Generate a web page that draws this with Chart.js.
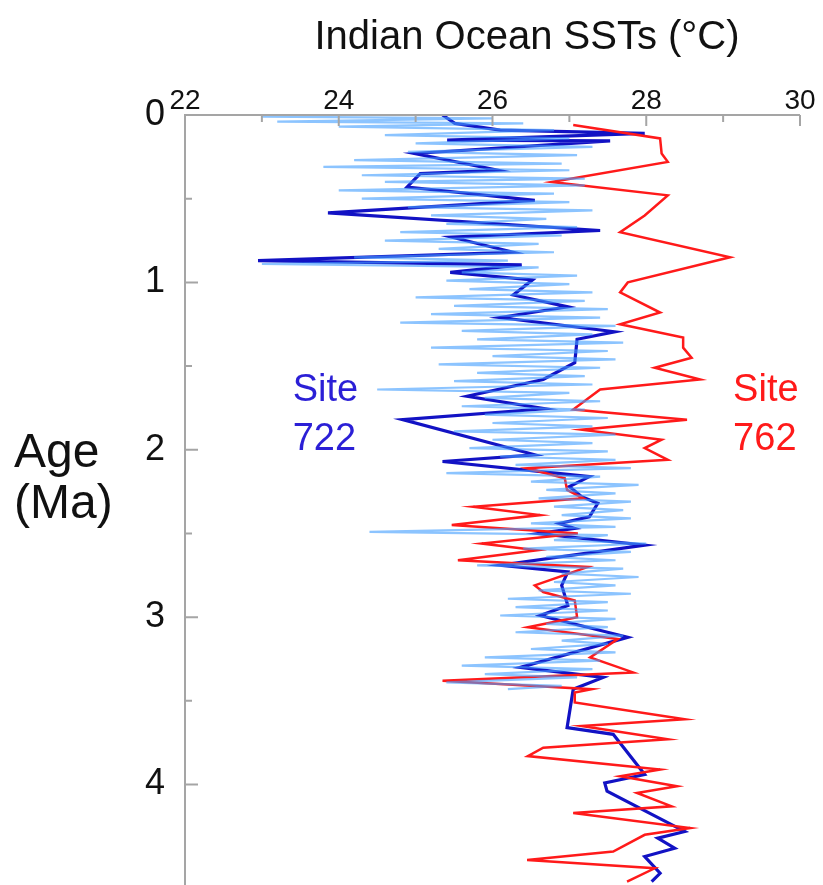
<!DOCTYPE html>
<html>
<head>
<meta charset="utf-8">
<script src="https://cdn.jsdelivr.net/npm/chart.js@4/dist/chart.umd.min.js"></script>
<style>
  html, body { margin: 0; padding: 0; background: #fff; }
  #wrap { width: 823px; height: 885px; }
</style>
</head>
<body>
<div id="wrap"><canvas id="sstChart" width="823" height="885"></canvas></div>
<script>
// Site 722 (dark blue) - age in Ma, SST in degC
const site722Age = [0, 0.05, 0.09, 0.11, 0.15, 0.155, 0.23, 0.33, 0.35, 0.43, 0.51, 0.585, 0.69, 0.73, 0.82, 0.87,
  0.895, 0.94, 0.985, 1.075, 1.146, 1.21, 1.295, 1.34, 1.48, 1.58, 1.68, 1.755, 1.82, 2.03, 2.07, 2.16, 2.22,
  2.28, 2.32, 2.40, 2.44, 2.47, 2.50, 2.57, 2.69, 2.73, 2.81, 2.93, 2.99, 3.12, 3.30, 3.36, 3.43, 3.66, 3.70,
  3.94, 3.99, 4.04, 4.28, 4.32, 4.38, 4.43, 4.53, 4.58];
const site722Sst = [25.35, 25.51, 26.1, 27.98, 25.41, 27.53, 24.99, 26.07, 25.06, 24.89, 26.55, 23.86, 27.4, 25.47, 26.27, 22.95,
  26.38, 25.45, 26.52, 26.27, 26.98, 26.1, 27.59, 27.1, 27.07, 26.66, 25.67, 26.68, 24.83, 26.55, 25.35, 27.26, 27.0,
  27.16, 27.37, 27.26, 26.87, 27.07, 26.6, 27.98, 26.1, 26.98, 26.9, 26.98, 26.62, 27.76, 26.36, 27.44, 27.05, 26.97, 27.57,
  27.98, 27.46, 27.49, 28.5, 28.15, 28.37, 27.98, 28.18, 28.07];

// Site 762 (red)
const site762Age = [0.06, 0.14, 0.23, 0.28, 0.40, 0.48, 0.60, 0.70, 0.85, 1.0, 1.06, 1.18, 1.25, 1.33, 1.39, 1.45,
  1.51, 1.58, 1.64, 1.76, 1.82, 1.88, 1.94, 1.99, 2.06, 2.11, 2.17, 2.24, 2.29, 2.34, 2.39, 2.45, 2.50, 2.56, 2.60,
  2.66, 2.70, 2.81, 2.85, 2.90, 3.00, 3.06, 3.13, 3.24, 3.33, 3.38, 3.43, 3.45, 3.51, 3.61, 3.65, 3.73, 3.78, 3.83,
  3.91, 3.95, 4.01, 4.05, 4.13, 4.17, 4.26, 4.30, 4.40, 4.45, 4.50, 4.58];
const site762Sst = [27.05, 28.18, 28.2, 28.28, 26.77, 28.28, 27.98, 27.66, 29.09, 27.76, 27.66, 28.18, 27.66, 28.48, 28.48, 28.59,
  28.11, 28.7, 27.4, 27.05, 28.53, 27.16, 28.2, 27.98, 28.28, 26.45, 26.94, 26.97, 27.18, 25.75, 26.62, 25.47, 27.11, 25.86, 26.58,
  25.55, 27.24, 26.55, 26.66, 27.07, 27.1, 26.46, 27.63, 27.27, 27.83, 25.35, 27.29, 27.07, 27.07, 28.5, 27.16, 28.28, 26.66, 26.46,
  28.18, 27.66, 28.4, 27.88, 28.33, 27.05, 28.57, 27.98, 27.57, 26.45, 28.11, 27.75];

// Site 722 high-resolution record (light blue)
const hiresAge = [0.01, 0.02, 0.04, 0.05, 0.07, 0.09, 0.12, 0.14, 0.17, 0.19, 0.22, 0.24, 0.27, 0.29, 0.31, 0.33,
  0.36, 0.38, 0.40, 0.42, 0.45, 0.47, 0.50, 0.52, 0.55, 0.57, 0.60, 0.62, 0.65, 0.67, 0.70, 0.72, 0.75, 0.77,
  0.80, 0.82, 0.85, 0.87, 0.89, 0.91, 0.94, 0.96, 0.99, 1.01, 1.04, 1.06, 1.09, 1.11, 1.14, 1.16, 1.19, 1.21,
  1.24, 1.26, 1.29, 1.31, 1.34, 1.36, 1.39, 1.41, 1.44, 1.46, 1.49, 1.51, 1.54, 1.56, 1.59, 1.61, 1.64, 1.66,
  1.69, 1.71, 1.74, 1.76, 1.79, 1.81, 1.84, 1.86, 1.89, 1.91, 1.94, 1.96, 1.99, 2.01, 2.04, 2.06, 2.09, 2.11,
  2.14, 2.16, 2.19, 2.21, 2.24, 2.26, 2.29, 2.31, 2.34, 2.36, 2.39, 2.41, 2.44, 2.46, 2.49, 2.51, 2.54, 2.56,
  2.59, 2.61, 2.64, 2.66, 2.69, 2.71, 2.74, 2.76, 2.79, 2.81, 2.84, 2.86, 2.89, 2.91, 2.94, 2.96, 2.99, 3.01,
  3.04, 3.06, 3.09, 3.11, 3.14, 3.16, 3.19, 3.21, 3.24, 3.26, 3.29, 3.31, 3.34, 3.36, 3.39, 3.41, 3.43];
const hiresSst = [23.0, 26.0, 23.2, 26.4, 24.0, 26.8, 24.6, 27.0, 25.0, 27.3, 24.9, 27.1, 24.2, 26.9, 23.8, 27.0,
  24.3, 27.2, 24.6, 27.2, 24.0, 26.8, 24.3, 27.0, 24.9, 27.3, 25.2, 26.7, 25.4, 27.1, 24.8, 26.9, 24.6, 26.6,
  25.3, 26.8, 24.2, 26.2, 23.0, 26.6, 25.6, 27.1, 25.4, 27.0, 25.7, 27.3, 25.0, 27.2, 25.5, 27.5, 25.2, 27.4,
  24.8, 27.6, 25.6, 27.3, 25.8, 27.7, 25.2, 27.5, 26.0, 27.6, 25.3, 27.4, 25.8, 27.2, 25.5, 27.3, 24.5, 27.0,
  25.9, 27.4, 25.6, 27.2, 25.9, 27.5, 26.0, 27.3, 25.5, 27.6, 26.0, 27.3, 25.7, 27.5, 26.1, 27.6, 26.3, 27.8,
  25.4, 27.4, 26.5, 27.9, 26.7, 27.6, 26.6, 27.8, 26.8, 27.7, 26.9, 27.8, 26.5, 27.6, 24.4, 27.5, 26.8, 28.0,
  26.4, 27.8, 26.7, 27.6, 25.8, 27.7, 26.9, 27.9, 26.8, 27.6, 26.6, 27.8, 26.2, 27.5, 26.3, 27.5, 26.1, 27.6,
  26.7, 27.5, 26.3, 27.7, 26.9, 27.5, 26.5, 27.6, 25.9, 27.4, 25.6, 27.3, 25.9, 27.1, 25.4, 26.9, 26.2];

const xTickLabels = [22, 24, 26, 28, 30];
const yTickLabels = [0, 1, 2, 3, 4];

const toPoints = (ages, ssts) => ages.map((a, i) => ({ x: ssts[i], y: a }));

const FONT = '"Liberation Sans", Arial, Helvetica, sans-serif';

// axis lines with inward ticks, drawn over the data
const axisFrame = {
  id: 'axisFrame',
  afterDatasetsDraw(chart) {
    const { ctx, chartArea, scales } = chart;
    ctx.save();
    ctx.strokeStyle = '#a5a5a5';
    ctx.lineWidth = 2;
    ctx.beginPath();
    ctx.moveTo(chartArea.left, chartArea.bottom);
    ctx.lineTo(chartArea.left, chartArea.top);
    ctx.lineTo(chartArea.right, chartArea.top);
    scales.x.ticks.forEach(t => {
      const px = scales.x.getPixelForValue(t.value);
      const len = xTickLabels.includes(t.value) ? 11 : 7;
      ctx.moveTo(px, chartArea.top);
      ctx.lineTo(px, chartArea.top + len);
    });
    scales.y.ticks.forEach(t => {
      if (Math.abs(t.value * 2 - Math.round(t.value * 2)) > 1e-6) return;
      const py = scales.y.getPixelForValue(t.value);
      const len = yTickLabels.includes(t.value) ? 13 : 7;
      ctx.moveTo(chartArea.left, py);
      ctx.lineTo(chartArea.left + len, py);
    });
    ctx.stroke();
    ctx.restore();
  }
};

// title, axis title and site labels
const labels = {
  id: 'labels',
  afterDraw(chart) {
    const { ctx, scales } = chart;
    ctx.save();
    ctx.textBaseline = 'alphabetic';
    ctx.fillStyle = '#111';
    ctx.font = '40px ' + FONT;
    ctx.textAlign = 'center';
    ctx.fillText('Indian Ocean SSTs (°C)', 527, 49);

    ctx.textAlign = 'left';
    ctx.font = '48px ' + FONT;
    ctx.fillText('Age', 14, 467);
    ctx.fillText('(Ma)', 14, 518);

    ctx.font = '38px ' + FONT;
    ctx.fillStyle = '#2b1fd6';
    ctx.fillText('Site', scales.x.getPixelForValue(23.4), scales.y.getPixelForValue(1.71));
    ctx.fillText('722', scales.x.getPixelForValue(23.4), scales.y.getPixelForValue(2.0));
    ctx.fillStyle = '#ff1a1a';
    ctx.fillText('Site', scales.x.getPixelForValue(29.13), scales.y.getPixelForValue(1.71));
    ctx.fillText('762', scales.x.getPixelForValue(29.13), scales.y.getPixelForValue(2.0));
    ctx.restore();
  }
};

const chart = new Chart(document.getElementById('sstChart').getContext('2d'), {
  type: 'scatter',
  data: {
    datasets: [
      {
        label: 'Site 722 high-res',
        data: toPoints(hiresAge, hiresSst),
        showLine: true,
        borderColor: 'rgba(70,160,255,0.62)',
        borderWidth: 2.2,
        pointRadius: 0,
        tension: 0
      },
      {
        label: 'Site 762',
        data: toPoints(site762Age, site762Sst),
        showLine: true,
        borderColor: '#ff1a1a',
        borderWidth: 2.5,
        pointRadius: 0,
        tension: 0
      },
      {
        label: 'Site 722',
        data: toPoints(site722Age, site722Sst),
        showLine: true,
        borderColor: '#1212c4',
        borderWidth: 3.2,
        pointRadius: 0,
        tension: 0
      }
    ]
  },
  options: {
    responsive: false,
    animation: false,
    layout: { padding: { left: 0, top: 0, right: 23, bottom: 0 } },
    plugins: {
      legend: { display: false },
      tooltip: { enabled: false }
    },
    scales: {
      x: {
        type: 'linear',
        position: 'top',
        min: 22,
        max: 30,
        grid: { display: false },
        border: { display: false },
        ticks: {
          stepSize: 1,
          autoSkip: false,
          maxRotation: 0,
          padding: -11,
          color: '#111',
          font: { family: FONT, size: 28 },
          callback: v => xTickLabels.includes(v) ? String(v) : ''
        },
        afterFit(scale) {
          scale.height = 115;
          scale.paddingLeft = 0;
          scale.paddingRight = 0;
        }
      },
      y: {
        type: 'linear',
        reverse: true,
        min: 0,
        max: 4.6,
        grid: { display: false },
        border: { display: false },
        ticks: {
          stepSize: 0.5,
          autoSkip: false,
          padding: 12,
          color: '#111',
          font: { family: FONT, size: 36 },
          callback: v => yTickLabels.includes(v) ? String(v) : ''
        },
        afterFit(scale) {
          scale.width = 185;
          scale.paddingTop = 0;
          scale.paddingBottom = 0;
        }
      }
    }
  },
  plugins: [axisFrame, labels]
});
</script>
</body>
</html>
